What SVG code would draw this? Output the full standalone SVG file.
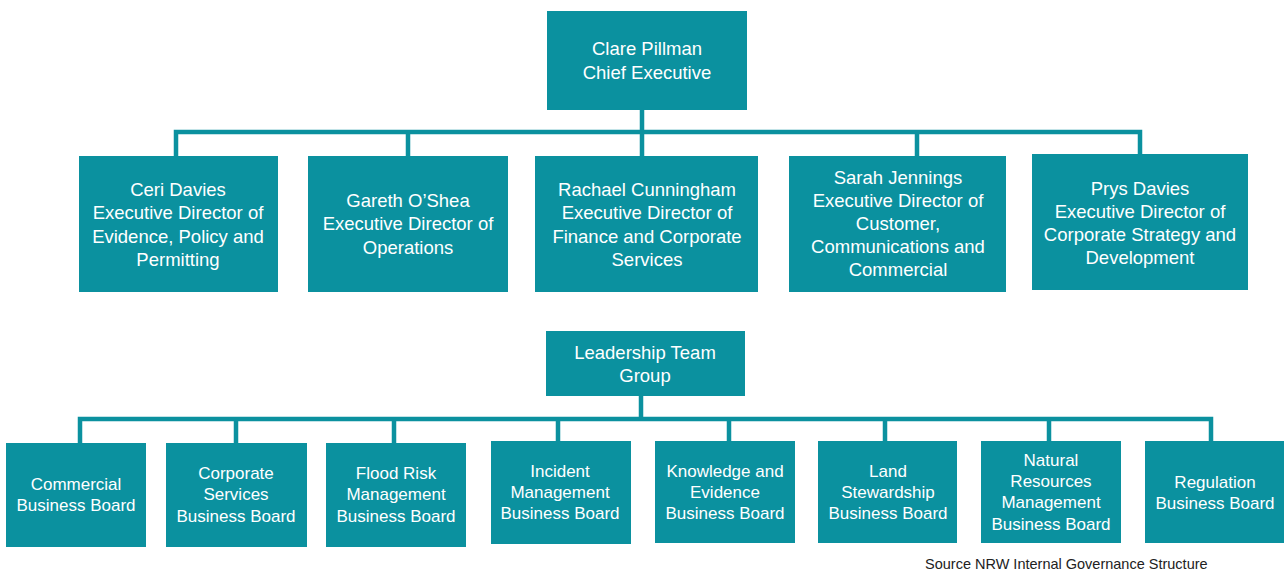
<svg xmlns="http://www.w3.org/2000/svg" width="1284" height="571" viewBox="0 0 1284 571">
<style>
.box{fill:#0b919f}
.t{fill:#fff;font-family:"Liberation Sans",Arial,sans-serif;font-size:18.5px;text-anchor:middle}
.s{fill:#fff;font-family:"Liberation Sans",Arial,sans-serif;font-size:17px;text-anchor:middle}
.c{stroke:#0b919f;stroke-width:4.5;fill:none}
.src{fill:#222;font-family:"Liberation Sans",Arial,sans-serif;font-size:14.5px}
</style>
<rect width="1284" height="571" fill="#fff"/>
<g id="connectors">
<path class="c" d="M642 110V132M176 156V132H1140V156M408 132V156M642 132V156M917 132V156"/>
<path class="c" d="M641 396V419M80 443V419H1211V441M236 419V443M394 419V443M558 419V441M729 419V441M885 419V441M1049 419V441"/>
</g>
<g id="ceo"><rect class="box" x="547" y="11" width="200" height="99"/>
<text class="t" x="647" y="54.5">Clare Pillman</text><text class="t" x="647" y="78.5">Chief Executive</text></g>
<g id="ceri"><rect class="box" x="79" y="156" width="199" height="136"/>
<text class="t" x="178" y="195.5">Ceri Davies</text><text class="t" x="178" y="218.5">Executive Director of</text><text class="t" x="178" y="242.5">Evidence, Policy and</text><text class="t" x="178" y="265.5">Permitting</text></g>
<g id="gareth"><rect class="box" x="308" y="156" width="200" height="136"/>
<text class="t" x="408" y="206.5">Gareth O’Shea</text><text class="t" x="408" y="229.5">Executive Director of</text><text class="t" x="408" y="253.5">Operations</text></g>
<g id="rachael"><rect class="box" x="535" y="156" width="223" height="136"/>
<text class="t" x="647" y="195.5">Rachael Cunningham</text><text class="t" x="647" y="218.5">Executive Director of</text><text class="t" x="647" y="242.5">Finance and Corporate</text><text class="t" x="647" y="265.5">Services</text></g>
<g id="sarah"><rect class="box" x="789" y="156" width="217" height="136"/>
<text class="t" x="898" y="183.5">Sarah Jennings</text><text class="t" x="898" y="206.5">Executive Director of</text><text class="t" x="898" y="229.5">Customer,</text><text class="t" x="898" y="252.5">Communications and</text><text class="t" x="898" y="275.5">Commercial</text></g>
<g id="prys"><rect class="box" x="1032" y="154" width="216" height="136"/>
<text class="t" x="1140" y="194.5">Prys Davies</text><text class="t" x="1140" y="217.5">Executive Director of</text><text class="t" x="1140" y="240.5">Corporate Strategy and</text><text class="t" x="1140" y="263.5">Development</text></g>
<g id="ltg"><rect class="box" x="546" y="331" width="199" height="65"/>
<text class="t" x="645" y="358.5">Leadership Team</text><text class="t" x="645" y="381.5">Group</text></g>
<g id="commercial"><rect class="box" x="6" y="443" width="140" height="104"/>
<text class="s" x="76" y="490">Commercial</text><text class="s" x="76" y="511">Business Board</text></g>
<g id="corporate"><rect class="box" x="166" y="443" width="141" height="104"/>
<text class="s" x="236" y="479">Corporate</text><text class="s" x="236" y="500">Services</text><text class="s" x="236" y="522">Business Board</text></g>
<g id="flood"><rect class="box" x="326" y="443" width="140" height="104"/>
<text class="s" x="396" y="479">Flood Risk</text><text class="s" x="396" y="500">Management</text><text class="s" x="396" y="522">Business Board</text></g>
<g id="incident"><rect class="box" x="491" y="441" width="140" height="103"/>
<text class="s" x="560" y="477">Incident</text><text class="s" x="560" y="498">Management</text><text class="s" x="560" y="519">Business Board</text></g>
<g id="knowledge"><rect class="box" x="655" y="441" width="140" height="102"/>
<text class="s" x="725" y="477">Knowledge and</text><text class="s" x="725" y="498">Evidence</text><text class="s" x="725" y="519">Business Board</text></g>
<g id="land"><rect class="box" x="818" y="441" width="139" height="102"/>
<text class="s" x="888" y="477">Land</text><text class="s" x="888" y="498">Stewardship</text><text class="s" x="888" y="519">Business Board</text></g>
<g id="natural"><rect class="box" x="981" y="441" width="140" height="102"/>
<text class="s" x="1051" y="466">Natural</text><text class="s" x="1051" y="487">Resources</text><text class="s" x="1051" y="508">Management</text><text class="s" x="1051" y="530">Business Board</text></g>
<g id="regulation"><rect class="box" x="1145" y="441" width="139" height="102"/>
<text class="s" x="1215" y="488">Regulation</text><text class="s" x="1215" y="509">Business Board</text></g>
<text class="src" x="925" y="569">Source NRW Internal Governance Structure</text>
</svg>
